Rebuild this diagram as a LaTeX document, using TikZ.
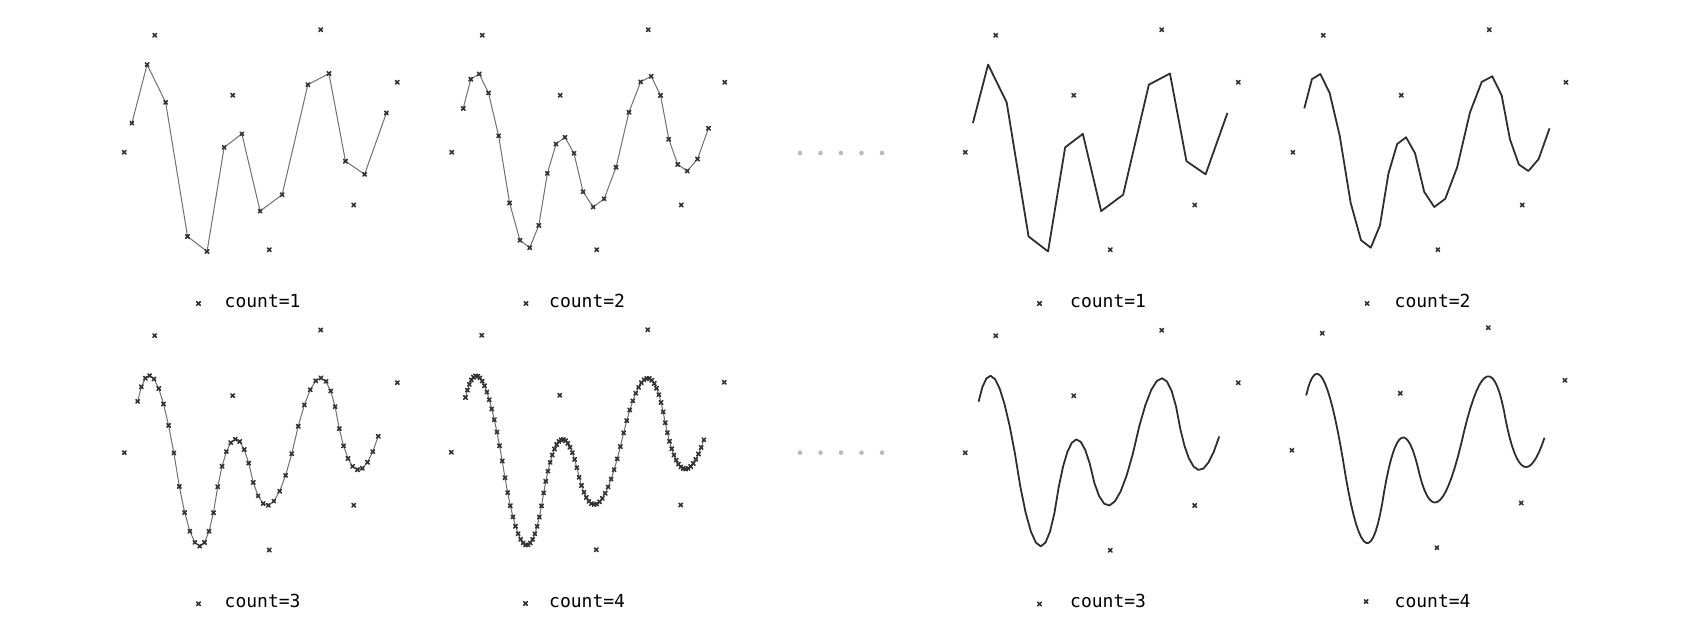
\documentclass[tikz,border=0pt]{standalone}
\usepackage{fontspec}
\newfontfamily\lblfont{DejaVu Sans Mono}
\ExplSyntaxOn
\seq_new:N \g_ck_x_seq
\seq_new:N \g_ck_y_seq
\seq_new:N \l_ck_nx_seq
\seq_new:N \l_ck_ny_seq
\tl_new:N \l_ck_coords_tl
\tl_new:N \l_ck_a_tl
\tl_new:N \l_ck_b_tl
\tl_new:N \l_ck_c_tl
\tl_new:N \l_ck_d_tl
\NewDocumentCommand \CkInit { m m }
  {
    \seq_gset_from_clist:Nn \g_ck_x_seq {#1}
    \seq_gset_from_clist:Nn \g_ck_y_seq {#2}
  }
\cs_new_protected:Npn \ck_step:
  {
    \seq_clear:N \l_ck_nx_seq
    \seq_clear:N \l_ck_ny_seq
    \int_step_inline:nn { \seq_count:N \g_ck_x_seq - 1 }
      {
        \tl_set:Nx \l_ck_a_tl { \seq_item:Nn \g_ck_x_seq { ##1 } }
        \tl_set:Nx \l_ck_b_tl { \seq_item:Nn \g_ck_x_seq { ##1 + 1 } }
        \tl_set:Nx \l_ck_c_tl { \seq_item:Nn \g_ck_y_seq { ##1 } }
        \tl_set:Nx \l_ck_d_tl { \seq_item:Nn \g_ck_y_seq { ##1 + 1 } }
        \seq_put_right:Nx \l_ck_nx_seq { \fp_eval:n { round(0.75*\l_ck_a_tl + 0.25*\l_ck_b_tl, 3) } }
        \seq_put_right:Nx \l_ck_nx_seq { \fp_eval:n { round(0.25*\l_ck_a_tl + 0.75*\l_ck_b_tl, 3) } }
        \seq_put_right:Nx \l_ck_ny_seq { \fp_eval:n { round(0.75*\l_ck_c_tl + 0.25*\l_ck_d_tl, 3) } }
        \seq_put_right:Nx \l_ck_ny_seq { \fp_eval:n { round(0.25*\l_ck_c_tl + 0.75*\l_ck_d_tl, 3) } }
      }
    \seq_gset_eq:NN \g_ck_x_seq \l_ck_nx_seq
    \seq_gset_eq:NN \g_ck_y_seq \l_ck_ny_seq
  }
\NewDocumentCommand \CkSteps { m } { \prg_replicate:nn {#1} { \ck_step: } }
\cs_new_protected:Npn \ck_build:
  {
    \tl_clear:N \l_ck_coords_tl
    \int_step_inline:nn { \seq_count:N \g_ck_x_seq }
      {
        \tl_put_right:Nx \l_ck_coords_tl
          { ( \seq_item:Nn \g_ck_x_seq { ##1 } , \seq_item:Nn \g_ck_y_seq { ##1 } ) ~ }
      }
  }
\cs_new_protected:Npn \ck_draw:nn #1 #2 { \draw[#1] ~ plot ~ coordinates ~ {#2} ; }
\cs_generate_variant:Nn \ck_draw:nn { nV }
\NewDocumentCommand \CkDraw { m } { \ck_build: \ck_draw:nV {#1} \l_ck_coords_tl }
\ExplSyntaxOff
\definecolor{markc}{HTML}{333333}
\definecolor{thinc}{HTML}{707070}
\definecolor{thickc}{HTML}{2E2E2E}
\definecolor{dotc}{HTML}{BBBBBB}
\newcommand\PanelPts{\CkInit{124.3,154.7,198.5,232.7,269.3,320.7,353.7,397.3}{152.3,35.3,303.5,95.3,249.7,29.7,205,82.3}}
\tikzset{
  ptmarks/.style={draw=markc, only marks, mark=x, mark size=2.5pt, mark options={line width=1.6pt, draw=markc, line cap=round}},
  thinline/.style={draw=thinc, line width=1pt, line join=round},
  thickline/.style={draw=thickc, line width=1.8pt, line join=round},
  lbl/.style={font=\lblfont\fontsize{18}{20}\selectfont, anchor=base west, inner sep=0pt, text=black},
  gdot/.style={fill=dotc, draw=none}
}
\newcommand\LeftPanel[1]{\PanelPts\CkDraw{ptmarks}\CkSteps{#1}\CkDraw{thinline}\CkDraw{ptmarks}}
\newcommand\RightPanel[1]{\PanelPts\CkDraw{ptmarks}\CkSteps{#1}\CkDraw{thickline}}
\begin{document}
\begin{tikzpicture}[x=1pt,y=-1pt]
\useasboundingbox (0,0) rectangle (1690,637);
\begin{scope}[shift={(0,0)}]\LeftPanel{1}\end{scope}
\begin{scope}[shift={(327.5,0)}]\LeftPanel{2}\end{scope}
\begin{scope}[shift={(0,300.3)}]\LeftPanel{3}\end{scope}
\begin{scope}[shift={(327,300)}]\LeftPanel{4}\end{scope}
\begin{scope}[shift={(841,0)}]\RightPanel{1}\end{scope}
\begin{scope}[shift={(1168.6,0)}]\RightPanel{2}\end{scope}
\begin{scope}[shift={(841,300.5)}]\RightPanel{3}\end{scope}
\begin{scope}[shift={(1167.6,298)}]\RightPanel{4}\end{scope}
\node[lbl] (c1) at (224.5,307.3) {count=1};
\node[lbl] (c2) at (549,307.3) {count=2};
\node[lbl] (c3) at (224.5,607.3) {count=3};
\node[lbl] (c4) at (549,607.3) {count=4};
\node[lbl] (r1) at (1070,307.3) {count=1};
\node[lbl] (r2) at (1394.5,307.3) {count=2};
\node[lbl] (r3) at (1070,607.3) {count=3};
\node[lbl] (r4) at (1394.5,607.3) {count=4};
\foreach \dx in {800,820.5,841,861.5,882}{
  \fill[gdot] (\dx,153) circle (2.3);
  \fill[gdot] (\dx,452.7) circle (2.3);
}
\end{tikzpicture}
\end{document}
